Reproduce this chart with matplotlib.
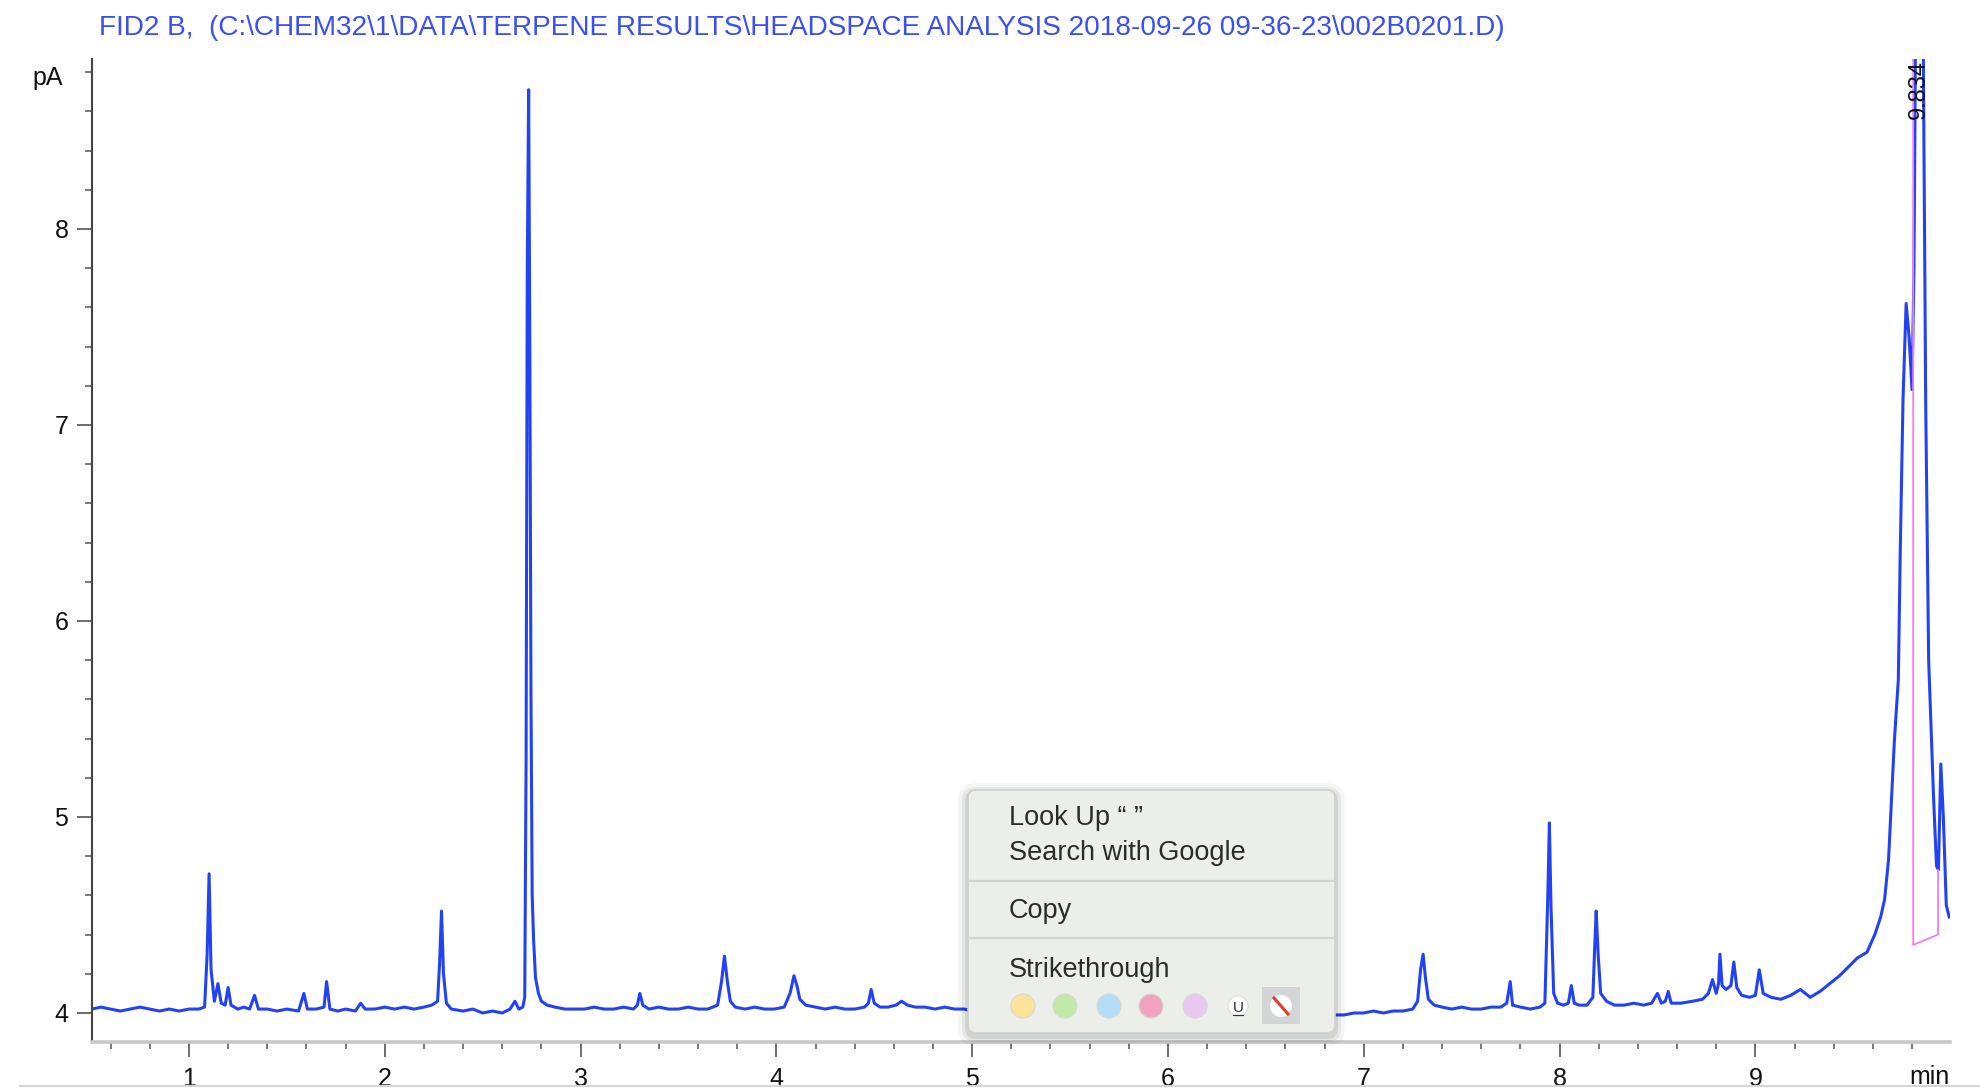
import matplotlib
matplotlib.use("Agg")
import matplotlib.pyplot as plt
from matplotlib.patches import FancyBboxPatch, Circle, Rectangle
from matplotlib.ticker import MultipleLocator, FixedLocator

# FID trace: retention time (min) and signal (pA)
time_min = [
    0.505, 0.55, 0.60, 0.65, 0.70, 0.75, 0.80, 0.85, 0.90, 0.95,
    1.00, 1.05, 1.08, 1.093, 1.103, 1.113, 1.13, 1.148, 1.165, 1.185,
    1.20, 1.215, 1.25, 1.28, 1.31, 1.335, 1.355, 1.40, 1.45, 1.50,
    1.56, 1.587, 1.605, 1.65, 1.69, 1.703, 1.72, 1.76, 1.80, 1.85,
    1.877, 1.90, 1.95, 2.00, 2.05, 2.10, 2.15, 2.20, 2.24, 2.27,
    2.28, 2.29, 2.30, 2.315, 2.34, 2.40, 2.45, 2.50, 2.55, 2.60,
    2.64, 2.665, 2.685, 2.705, 2.715, 2.722, 2.728, 2.735, 2.741, 2.747,
    2.753, 2.76, 2.77, 2.785, 2.80, 2.83, 2.87, 2.92, 2.97, 3.02,
    3.07, 3.12, 3.17, 3.22, 3.27, 3.29, 3.303, 3.318, 3.35, 3.40,
    3.45, 3.50, 3.55, 3.60, 3.65, 3.70, 3.72, 3.735, 3.75, 3.765,
    3.79, 3.84, 3.89, 3.94, 3.99, 4.04, 4.07, 4.09, 4.105, 4.12,
    4.15, 4.20, 4.25, 4.30, 4.35, 4.40, 4.45, 4.47, 4.484, 4.50,
    4.53, 4.57, 4.61, 4.64, 4.67, 4.71, 4.76, 4.81, 4.86, 4.91,
    4.96, 5.00, 5.10, 5.30, 5.50, 5.70, 5.90, 6.10, 6.30, 6.50,
    6.70, 6.85, 6.90, 6.95, 7.00, 7.05, 7.10, 7.15, 7.20, 7.25,
    7.275, 7.29, 7.303, 7.315, 7.33, 7.36, 7.40, 7.45, 7.50, 7.55,
    7.60, 7.65, 7.70, 7.73, 7.748, 7.76, 7.80, 7.85, 7.90, 7.925,
    7.94, 7.948, 7.956, 7.97, 7.99, 8.02, 8.045, 8.06, 8.075, 8.10,
    8.14, 8.17, 8.18, 8.187, 8.197, 8.21, 8.24, 8.28, 8.33, 8.38,
    8.43, 8.47, 8.50, 8.52, 8.54, 8.555, 8.57, 8.62, 8.68, 8.73,
    8.76, 8.781, 8.80, 8.812, 8.819, 8.83, 8.85, 8.875, 8.89, 8.905,
    8.93, 8.97, 9.00, 9.02, 9.04, 9.08, 9.13, 9.18, 9.23, 9.28,
    9.33, 9.38, 9.43, 9.48, 9.52, 9.57, 9.61, 9.64, 9.66, 9.68,
    9.69, 9.71, 9.73, 9.74, 9.754, 9.77, 9.785, 9.80, 9.81, 9.82,
    9.835, 9.855, 9.87, 9.885, 9.91, 9.925, 9.935, 9.947, 9.96, 9.975,
    9.99,
]
signal_pA = [
    4.02, 4.03, 4.02, 4.01, 4.02, 4.03, 4.02, 4.01, 4.02, 4.01,
    4.02, 4.02, 4.03, 4.30, 4.71, 4.22, 4.06, 4.15, 4.05, 4.04,
    4.13, 4.04, 4.02, 4.03, 4.02, 4.09, 4.02, 4.02, 4.01, 4.02,
    4.01, 4.10, 4.02, 4.02, 4.03, 4.16, 4.02, 4.01, 4.02, 4.01,
    4.05, 4.02, 4.02, 4.03, 4.02, 4.03, 4.02, 4.03, 4.04, 4.06,
    4.25, 4.52, 4.20, 4.05, 4.02, 4.01, 4.02, 4.00, 4.01, 4.00,
    4.02, 4.06, 4.02, 4.03, 4.08, 5.30, 7.80, 8.71, 7.40, 5.60,
    4.60, 4.38, 4.18, 4.10, 4.06, 4.04, 4.03, 4.02, 4.02, 4.02,
    4.03, 4.02, 4.02, 4.03, 4.02, 4.04, 4.10, 4.04, 4.02, 4.03,
    4.02, 4.02, 4.03, 4.02, 4.02, 4.04, 4.16, 4.29, 4.16, 4.06,
    4.03, 4.02, 4.03, 4.02, 4.02, 4.03, 4.10, 4.19, 4.14, 4.07,
    4.04, 4.03, 4.02, 4.03, 4.02, 4.02, 4.03, 4.05, 4.12, 4.05,
    4.03, 4.03, 4.04, 4.06, 4.04, 4.03, 4.03, 4.02, 4.03, 4.02,
    4.02, 4.01, 4.01, 4.01, 4.00, 4.01, 4.00, 4.00, 4.00, 4.00,
    3.99, 3.99, 3.99, 4.00, 4.00, 4.01, 4.00, 4.01, 4.01, 4.02,
    4.06, 4.22, 4.30, 4.18, 4.07, 4.04, 4.03, 4.02, 4.03, 4.02,
    4.02, 4.03, 4.03, 4.05, 4.16, 4.04, 4.03, 4.02, 4.03, 4.05,
    4.60, 4.97, 4.55, 4.10, 4.05, 4.04, 4.05, 4.14, 4.05, 4.04,
    4.04, 4.08, 4.35, 4.52, 4.30, 4.10, 4.06, 4.04, 4.04, 4.05,
    4.04, 4.05, 4.10, 4.05, 4.06, 4.11, 4.05, 4.05, 4.06, 4.07,
    4.10, 4.17, 4.10, 4.15, 4.30, 4.14, 4.12, 4.14, 4.26, 4.13,
    4.09, 4.08, 4.09, 4.22, 4.10, 4.08, 4.07, 4.09, 4.12, 4.08,
    4.11, 4.15, 4.19, 4.24, 4.28, 4.31, 4.40, 4.49, 4.58, 4.78,
    4.98, 5.39, 5.70, 6.36, 7.13, 7.62, 7.45, 7.18, 7.80, 9.30,
    9.90, 9.30, 7.10, 5.80, 5.10, 4.75, 4.73, 5.27, 5.00, 4.55,
    4.49,
]

# integration baseline drawn under the last peak
integ_t = [9.806, 9.806, 9.933, 9.933]
integ_y = [9.30, 4.347, 4.40, 4.73]
peak_rt = 9.836
peak_text = "9.834"

x_major = [1, 2, 3, 4, 5, 6, 7, 8, 9]
y_major = [4, 5, 6, 7, 8]

title = r"FID2 B,  (C:\CHEM32\1\DATA\TERPENE RESULTS\HEADSPACE ANALYSIS 2018-09-26 09-36-23\002B0201.D)"

# the macOS context menu that sits over the chart in the screenshot
menu_items = ["Look Up \u201c \u201d", "Search with Google", "Copy", "Strikethrough"]
menu_baselines = [825, 860, 918, 977]
swatch_colors = ["#fbe39c", "#c2e9aa", "#b4def7", "#f0a3bf", "#e9c8f1"]

W, H = 1981, 1089
plt.rcParams["font.family"] = ["Liberation Sans", "DejaVu Sans"]

fig = plt.figure(figsize=(W / 100, H / 100), dpi=100)
fig.patch.set_facecolor("white")
ax = fig.add_axes([92 / W, 1 - 1042 / H, (1950 - 92) / W, (1042 - 59) / H])

blue = "#2342f4"
ax.plot(time_min, signal_pA, color=blue, lw=2.2, solid_joinstyle="round")
ax.plot(integ_t, integ_y, color="#f07ff0", lw=1.3)
ax.text(peak_rt, 8.86, peak_text, rotation=90, ha="center", va="top",
        fontsize=17, color="#111111")

ax.set_xlim(0.505, 9.994)
ax.set_ylim(3.852, 8.867)
ax.xaxis.set_major_locator(FixedLocator(x_major))
ax.xaxis.set_minor_locator(MultipleLocator(0.2))
ax.yaxis.set_major_locator(FixedLocator(y_major))
ax.yaxis.set_minor_locator(MultipleLocator(0.2))

for s in ["top", "right"]:
    ax.spines[s].set_visible(False)
ax.spines["left"].set_color("#444444")
ax.spines["left"].set_linewidth(1.5)
ax.spines["bottom"].set_color("#c8c8c8")
ax.spines["bottom"].set_linewidth(2.6)

ax.tick_params(axis="both", which="major", labelsize=18, direction="out",
               length=11, width=1.2, color="#555555", labelcolor="#111111")
ax.tick_params(axis="both", which="minor", direction="out", length=5,
               width=1.1, color="#555555")
ax.tick_params(axis="y", which="major", pad=6)
ax.tick_params(axis="x", which="major", pad=7)

fig.text(99 / W, 1 - 28 / H, title, ha="left", va="center", color="#3a50f3",
         fontsize=20.2)
fig.text(48 / W, 1 - 78 / H, "pA", ha="center", va="center", fontsize=18,
         color="#111111")
fig.text(1950 / W, 1 - 1077 / H, "min", ha="right", va="center", fontsize=18,
         color="#111111")

# overlay in pixel coordinates for the menu
ov = fig.add_axes([0, 0, 1, 1], zorder=10)
ov.set_xlim(0, W)
ov.set_ylim(H, 0)
ov.axis("off")
ov.patch.set_alpha(0)

ov.plot([20, W], [1086, 1086], color="#d6d6d6", lw=1.5)

for grow, a in [(10, 0.04), (6, 0.06), (3, 0.08)]:
    ov.add_patch(FancyBboxPatch((968 - grow, 790 - grow + 3), 367 + 2 * grow,
                                243 + 2 * grow,
                                boxstyle="round,pad=0,rounding_size=%d" % (8 + grow),
                                fc="black", ec="none", alpha=a))
ov.add_patch(FancyBboxPatch((968, 790), 367, 243,
                            boxstyle="round,pad=0,rounding_size=8",
                            fc="#eceeea", ec="#cfd1cd", lw=1.2))
for yy in [881, 938]:
    ov.plot([970, 1333], [yy, yy], color="#d2d4d0", lw=1.6)

for txt, yb in zip(menu_items, menu_baselines):
    ov.text(1009, yb, txt, ha="left", va="baseline", fontsize=19.5,
            color="#2b2b2b")

xs = [1023, 1065, 1109, 1151, 1195]
for x, c in zip(xs, swatch_colors):
    ov.add_patch(Circle((x, 1006), 12, fc=c, ec="#d8d8d8", lw=0.8))
ov.add_patch(Circle((1238, 1006), 10, fc="white", ec="#dddddd", lw=0.8))
ov.text(1238, 1008, "U", ha="center", va="center", fontsize=11, color="#333333")
ov.plot([1233, 1243], [1015, 1015], color="#333333", lw=0.8)
ov.add_patch(Rectangle((1262, 987), 38, 37, fc="#d3d6d6", ec="none"))
ov.add_patch(Circle((1281, 1006), 11, fc="white", ec="none"))
ov.plot([1274, 1288], [998, 1014], color="#e53b30", lw=2.2)

fig.savefig("out.png", dpi=100)
